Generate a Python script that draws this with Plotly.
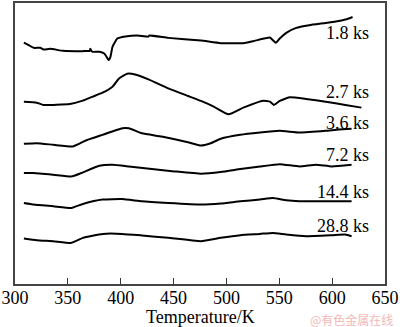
import plotly.graph_objects as go

# Temperature (K) and heat-flow (arbitrary units, offset) for each ageing time
t_18 = [308.4, 313, 317.7, 323.9, 327, 333.2, 345.6, 364.2, 370.5, 371.3, 372.2, 373.5, 379.8, 384.4, 386.6, 388.4,
        390.3, 392.2, 396.8, 404.3, 415.4, 426.3, 427.0, 444.9, 475.9, 494.6, 516, 525.3, 541.1, 543.9, 546.7,
        550.4, 556.6, 566, 578.3, 593.9, 606.3, 613.7, 619.3]
h_18 = [242.3, 239.7, 237, 237, 235.3, 236, 234, 233.7, 234.0, 236.0, 234.0, 233, 233, 231.3, 228, 224.7,
        228, 238, 246.3, 248.3, 249.3, 248.3, 249.3, 247, 244.3, 241.7, 241.7, 243.7, 247.3, 244.7, 242,
        246.3, 252, 257, 259.7, 262, 264, 265.7, 268]

t_27 = [308.4, 320.5, 327, 351.9, 364.2, 373.5, 382.8, 392.2, 398.4, 406.1, 413.6, 426.3, 444.9, 463.6,
        475.9, 488, 502, 516, 534.6, 541.1, 544.8, 550.4, 559.7, 575.3, 593.9, 612.5, 627.7]
h_27 = [183, 182, 179.7, 180.7, 184, 188, 192, 198, 206.3, 211, 210.3, 205.3, 196.3, 188.7,
        183.7, 178, 170.3, 177, 184, 183, 179.7, 183.7, 187.3, 185.7, 183, 179.7, 177]

t_36 = [308.4, 320.5, 336.3, 354.9, 367, 382.8, 401.5, 407.7, 420.1, 438.7, 463.6, 475.9, 485.2, 494.6,
        513.2, 531.8, 550.4, 569, 593.9, 606.3, 618.4]
h_36 = [140.7, 141.3, 139.7, 138, 144, 149.7, 156.3, 156.3, 151.3, 148, 142.3, 139, 141.3, 145.7,
        149.7, 152, 153.7, 152, 153.7, 155, 155.7]

t_72 = [308.4, 317.7, 336.3, 353.3, 361.2, 379.8, 392.2, 407.7, 429.4, 450.8, 475.9, 494.6, 513.2, 531.8,
        550.4, 569, 584.6, 599.7, 618.4]
h_72 = [111.3, 111.3, 109.7, 108, 110.7, 118.7, 119.7, 118, 115.3, 113, 110.7, 112.3, 115.3, 118,
        120.3, 118, 119.7, 118, 119.7]

t_144 = [308.4, 317.7, 336.3, 353.3, 364.2, 382.8, 401.5, 420.1, 444.9, 475.9, 494.6, 513.2, 531.8, 543.9,
         556.6, 569, 593.9, 618.4]
h_144 = [81.3, 79.7, 78, 76.3, 80.3, 84.7, 85.3, 83, 81.3, 79.7, 80.7, 83, 84.7, 86.3,
         84, 83, 83, 83]

t_288 = [308.4, 320.5, 336.3, 353.3, 364.2, 382.8, 401.5, 420.1, 444.9, 475.9, 494.6, 513.2, 531.8, 543.9,
         556.6, 575.3, 599.7, 612.5, 618.4]
h_288 = [45.7, 44, 43, 41.3, 46.3, 50.3, 50.3, 48.7, 46.3, 43, 46.3, 49, 50.3, 51.3,
         49.7, 48, 49, 49.7, 48]

labels = ["1.8 ks", "2.7 ks", "3.6 ks", "7.2 ks", "14.4 ks", "28.8 ks"]
label_y = [252, 192.3, 162, 129.7, 92, 58.7]
label_x = 637

x_ticks = [300, 350, 400, 450, 500, 550, 600, 650]

series = [(t_18, h_18), (t_27, h_27), (t_36, h_36), (t_72, h_72), (t_144, h_144), (t_288, h_288)]

fig = go.Figure()
for (tx, hy), name in zip(series, labels):
    fig.add_trace(go.Scatter(x=tx, y=hy, mode="lines", name=name,
                             line=dict(color="black", width=2, shape="spline", smoothing=0.4),
                             showlegend=False, hoverinfo="skip"))

font = "Liberation Serif, Times New Roman, serif"
for name, ly in zip(labels, label_y):
    fig.add_annotation(x=label_x, y=ly, text=name, showarrow=False, xanchor="right", yanchor="middle",
                       font=dict(family=font, size=18, color="black"))

fig.add_annotation(xref="paper", yref="paper", x=0.5, y=-0.118, text="Temperature/K", showarrow=False,
                   xanchor="center", yanchor="middle", borderpad=0,
                   font=dict(family=font, size=18, color="black"))

fig.add_annotation(xref="paper", yref="paper", x=1.024, y=-0.128, text="@有色金属在线", showarrow=False,
                   xanchor="right", yanchor="middle", borderpad=0,
                   font=dict(family="Noto Sans CJK SC", size=12, color="#f2b8b8"))

fig.update_layout(
    width=400, height=327,
    margin=dict(l=11, r=14, t=1, b=43),
    paper_bgcolor="white", plot_bgcolor="white",
    font=dict(family=font, size=18, color="black"),
    xaxis=dict(range=[300, 650], tickvals=x_ticks, ticks="inside", ticklen=6, tickwidth=1.2,
               tickcolor="#333", showline=True, linecolor="#444", linewidth=1.5, mirror=True,
               showgrid=False, zeroline=False, ticklabeloverflow="allow", ticklabelstandoff=-3,
               tickfont=dict(family=font, size=18)),
    yaxis=dict(range=[0, 282], showticklabels=False, ticks="", showline=True, linecolor="#444",
               linewidth=1.5, mirror=True, showgrid=False, zeroline=False),
)

fig.write_html("out.html")
